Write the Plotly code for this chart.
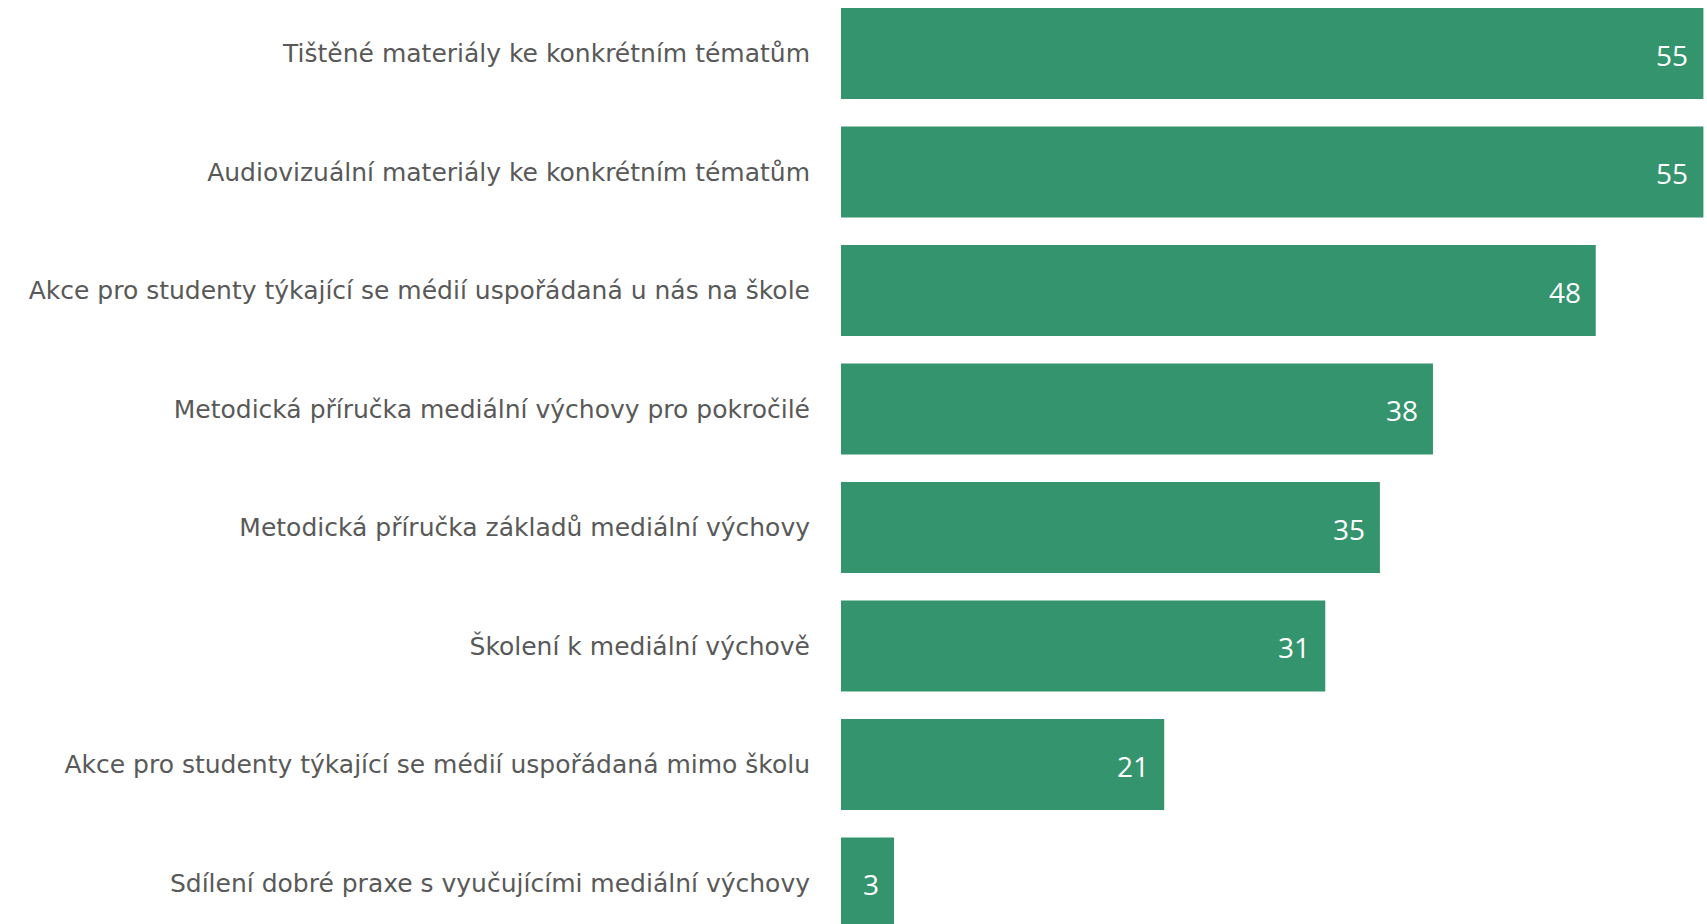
import plotly.graph_objects as go

categories = [
    "Tištěné materiály ke konkrétním tématům",
    "Audiovizuální materiály ke konkrétním tématům",
    "Akce pro studenty týkající se médií uspořádaná u nás na škole",
    "Metodická příručka mediální výchovy pro pokročilé",
    "Metodická příručka základů mediální výchovy",
    "Školení k mediální výchově",
    "Akce pro studenty týkající se médií uspořádaná mimo školu",
    "Sdílení dobré praxe s vyučujícími mediální výchovy",
]
values = [55.26, 55.26, 48.36, 37.93, 34.53, 31.03, 20.71, 3.40]
labels = [f"{round(v)}" for v in values]

BAR = "#33946d"
FONT = "DejaVu Sans"
NUMFONT = "Open Sans"

fig = go.Figure(go.Bar(
    x=values, y=categories, orientation="h",
    marker=dict(color=BAR, line=dict(width=0)),
    hoverinfo="skip",
))

for c, v, t in zip(categories, values, labels):
    fig.add_annotation(x=v, y=c, text=t, showarrow=False, xanchor="right",
                       xshift=-13, yshift=-1,
                       font=dict(family=NUMFONT, size=28, color="white"))

fig.update_layout(
    width=1707, height=924,
    margin=dict(l=841, r=0, t=0, b=0),
    paper_bgcolor="white", plot_bgcolor="white",
    bargap=0.23, showlegend=False,
    font=dict(family=FONT, size=25, color="#595959"),
)
fig.update_xaxes(range=[0, 55.49], visible=False, fixedrange=True)
fig.update_yaxes(range=[7.346, -0.4515], showgrid=False, zeroline=False,
                 showline=False, ticks="", ticklabelstandoff=30,
                 tickfont=dict(family=FONT, size=25, color="#595959"),
                 automargin=False)

fig.write_html(
    "out.html",
    config={"displayModeBar": False, "staticPlot": True},
    post_script="document.body.style.margin='0';document.body.style.overflow='hidden';",
)
